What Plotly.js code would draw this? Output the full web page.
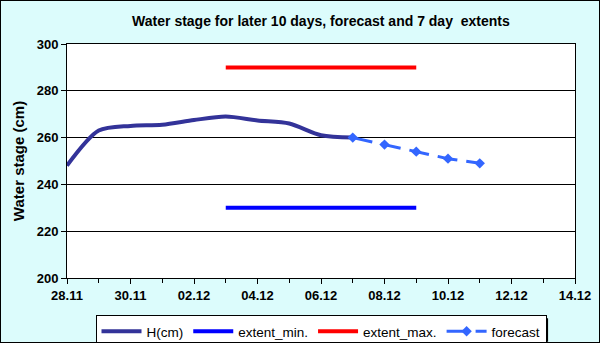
<!DOCTYPE html>
<html>
<head>
<meta charset="utf-8">
<script src="https://cdn.plot.ly/plotly-3.0.1.min.js"></script>
<style>
  body { margin: 0; }
  #chart { width: 598px; height: 341px; border: 1px solid #000; }
</style>
</head>
<body>
<div id="chart"></div>
<script>
// observed stage, daily
const obsDates = ['2010-11-28', '2010-11-29', '2010-11-30', '2010-12-01', '2010-12-02',
  '2010-12-03', '2010-12-04', '2010-12-05', '2010-12-06', '2010-12-07'];
const obsStage = [248, 263, 265, 265.5, 267.5, 269, 267.3, 266, 261, 260];

// forecast
const fcDates = ['2010-12-07', '2010-12-08', '2010-12-09', '2010-12-10', '2010-12-11'];
const fcStage = [260, 257, 254, 251, 249];

// 7 day extents
const extDates = ['2010-12-03', '2010-12-09'];
const extMin = [230, 230];
const extMax = [290, 290];

const font = "'Liberation Sans', Arial, sans-serif";

const hLine = {
  x: obsDates, y: obsStage, type: 'scatter', mode: 'lines', name: 'H(cm)',
  line: { color: '#333399', width: 4, shape: 'spline', smoothing: 0.8 }
};
const minLine = {
  x: extDates, y: extMin, type: 'scatter', mode: 'lines', name: 'extent_min.',
  line: { color: '#0000ff', width: 4 }
};
const maxLine = {
  x: extDates, y: extMax, type: 'scatter', mode: 'lines', name: 'extent_max.',
  line: { color: '#ff0000', width: 4 }
};
const fcLine = {
  x: fcDates, y: fcStage, type: 'scatter', mode: 'lines+markers', name: 'forecast',
  line: { color: '#3366ff', width: 3, dash: '20px,9px' },
  marker: { symbol: 'diamond', size: 8, color: '#3366ff' }
};

const layout = {
  width: 598,
  height: 341,
  paper_bgcolor: '#dcfcfc',
  plot_bgcolor: '#ffffff',
  margin: { l: 66, r: 24, t: 43, b: 64, autoexpand: false },
  font: { family: font, color: '#000', size: 13 },
  title: {
    text: '<b>Water stage for later 10 days, forecast and 7 day  extents</b>',
    font: { size: 14 }, x: 0.535, xanchor: 'center', y: 0.94, yanchor: 'middle'
  },
  xaxis: {
    type: 'date',
    range: ['2010-11-28', '2010-12-14'],
    dtick: 2 * 86400000,
    tick0: '2010-11-28',
    tickformat: '<b>%d.%m</b>',
    ticks: 'outside', ticklen: 5, tickcolor: '#000',
    minor: { dtick: 86400000, ticks: 'outside', ticklen: 4, tickcolor: '#000' },
    showgrid: false,
    showline: true, linecolor: '#000', linewidth: 1, mirror: true,
    tickfont: { size: 13 }
  },
  yaxis: {
    range: [200, 300],
    dtick: 20,
    tickprefix: '<b>', ticksuffix: '</b>',
    ticks: 'outside', ticklen: 5, tickcolor: '#000',
    showgrid: true, gridcolor: '#000', gridwidth: 1,
    showline: true, linecolor: '#000', linewidth: 1, mirror: true,
    zeroline: false,
    tickfont: { size: 13 },
    title: { text: '<b>Water stage (cm)</b>', font: { size: 15 }, standoff: 8 }
  },
  // drop shadow behind the legend box
  shapes: [{
    type: 'rect', xref: 'paper', yref: 'paper', layer: 'above',
    x0: 0.063, x1: 0.947, y0: -0.272, y1: -0.172,
    fillcolor: '#000', line: { width: 0 }
  }],
  showlegend: true,
  legend: {
    orientation: 'h',
    x: 0.5, xanchor: 'center',
    y: -0.158, yanchor: 'top',
    bgcolor: '#ffffff', bordercolor: '#000', borderwidth: 1,
    font: { size: 13.5 },
    itemwidth: 40, tracegroupgap: 0
  }
};

Plotly.newPlot('chart', [hLine, minLine, maxLine, fcLine], layout, { displayModeBar: false });
</script>
</body>
</html>
